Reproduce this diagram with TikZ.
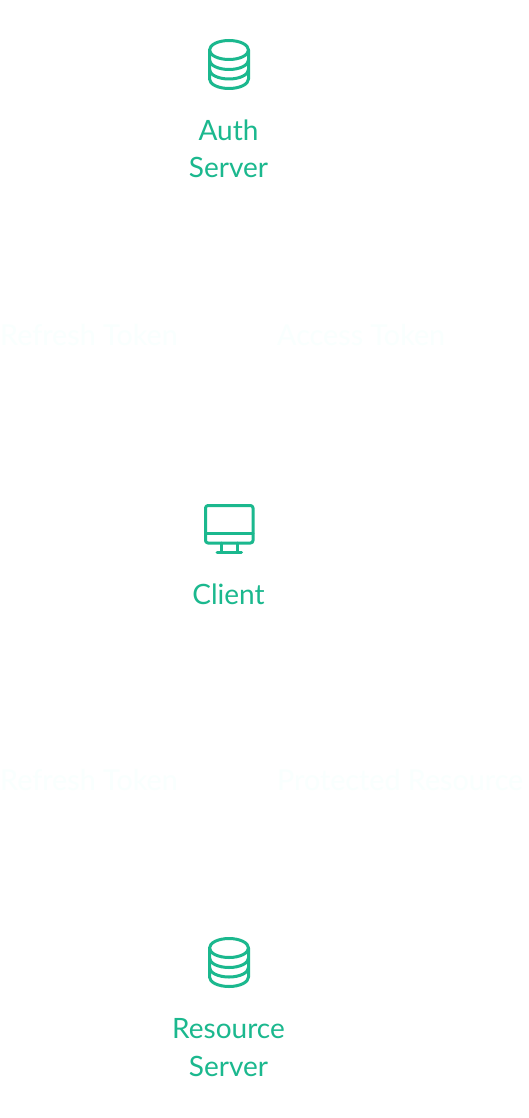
\documentclass[tikz,border=0pt]{standalone}
\usepackage{fontspec}
\setmainfont{Lato}
\definecolor{teal}{HTML}{1BB88E}
\definecolor{ghost}{HTML}{F9FFFE}
\tikzset{
  lab/.style={text=teal,font=\fontsize{28}{38}\selectfont,align=center,anchor=base,inner sep=0pt},
  ghosttext/.style={text=ghost,font=\fontsize{28.7}{38}\selectfont,anchor=base west,inner sep=0pt},
  icon/.style={draw=teal,line width=3pt,line join=round,line cap=round}
}
\newcommand{\dbicon}[1]{%
  \begin{scope}[yshift=#1]
    \draw[icon] (229,50) ellipse [x radius=19.5, y radius=9.5];
    \draw[icon] (209.5,50) -- (209.5,79) arc[start angle=180,end angle=0,x radius=19.5,y radius=9.5] -- (248.5,50);
    \draw[icon] (209.5,60) arc[start angle=180,end angle=0,x radius=19.5,y radius=9.5];
    \draw[icon] (209.5,69.5) arc[start angle=180,end angle=0,x radius=19.5,y radius=9.5];
  \end{scope}}
\begin{document}
\begin{tikzpicture}[x=1pt,y=-1pt]
\useasboundingbox[fill=white] (0,0) rectangle (528,1118);
\dbicon{0pt}
\node[lab] (auth) at (228.5,141) {Auth};
\node[lab] (auth2) at (228.5,178) {Server};
\node[ghosttext] (rt1) at (0,345) {Refresh Token};
\node[ghosttext] (at1) at (277,345) {Access Token};
\draw[icon,rounded corners=2.5pt] (205.5,505.5) rectangle (253,543);
\draw[icon] (205.5,533) -- (253,533);
\draw[icon] (221,543) -- (221,552) (237.5,543) -- (237.5,552) (217,552) -- (241.5,552);
\node[lab] (client) at (228.5,604) {Client};
\node[ghosttext] (rt2) at (0,790) {Refresh Token};
\node[ghosttext] (pr) at (277,790) {Protected Resource};
\dbicon{-898pt}
\node[lab] (res) at (228.5,1038) {Resource};
\node[lab] (res2) at (228.5,1076) {Server};
\end{tikzpicture}
\end{document}
